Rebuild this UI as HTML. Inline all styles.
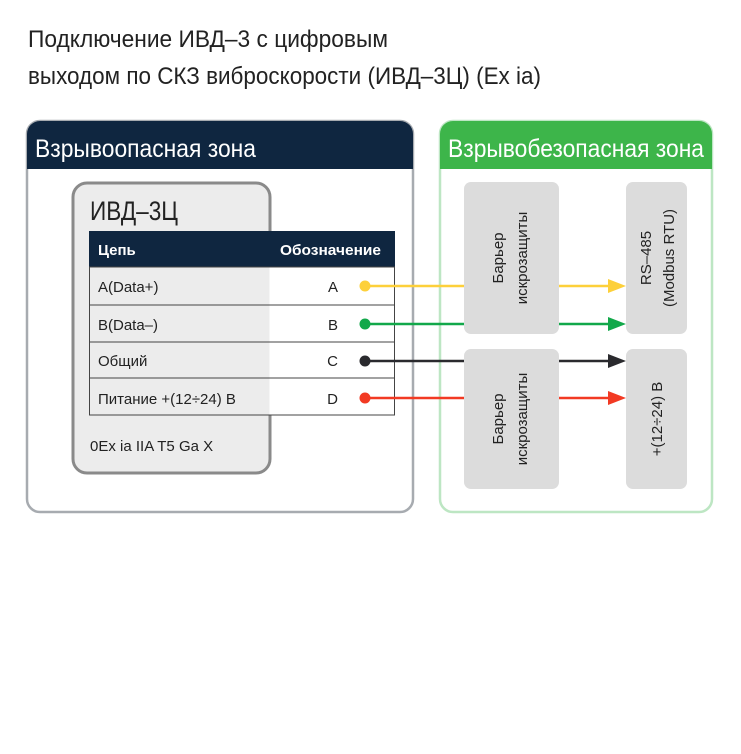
<!DOCTYPE html>
<html><head><meta charset="utf-8"><style>
html,body{margin:0;padding:0;background:#fff;}
svg{display:block;font-family:"Liberation Sans Narrow","Liberation Sans",sans-serif;}
</style></head><body>
<svg width="741" height="754" viewBox="0 0 741 754" xmlns="http://www.w3.org/2000/svg">
<defs>
<marker id="ay" markerWidth="10" markerHeight="10" refX="9" refY="5" orient="auto" markerUnits="userSpaceOnUse"><path d="M0,0 L10,5 L0,10 z" fill="#fdd03a"/></marker>
</defs>
<!-- title -->
<text x="28" y="47" font-size="24" fill="#222" textLength="360" lengthAdjust="spacingAndGlyphs">Подключение ИВД–3 с цифровым</text>
<text x="28" y="84" font-size="24" fill="#222" textLength="513" lengthAdjust="spacingAndGlyphs">выходом по СКЗ виброскорости (ИВД–3Ц) (Ex ia)</text>

<!-- left zone -->
<rect x="27" y="121" width="386" height="391" rx="13" fill="#fff" stroke="#a7abb0" stroke-width="2.5"/>
<path d="M27,169 V134 a13,13 0 0 1 13,-13 H400 a13,13 0 0 1 13,13 V169 z" fill="#0f2640"/>
<text x="35" y="157" font-size="25" fill="#fff" textLength="221" lengthAdjust="spacingAndGlyphs">Взрывоопасная зона</text>

<!-- right zone -->
<rect x="440" y="121" width="272" height="391" rx="13" fill="#fff" stroke="#bde6c3" stroke-width="2.5"/>
<path d="M440,169 V134 a13,13 0 0 1 13,-13 H699 a13,13 0 0 1 13,13 V169 z" fill="#3db54a"/>
<text x="448" y="157" font-size="25" fill="#fff" textLength="256" lengthAdjust="spacingAndGlyphs">Взрывобезопасная зона</text>

<!-- device -->
<rect x="73" y="183" width="197" height="290" rx="14" fill="#ececec" stroke="#8a8a8a" stroke-width="3"/>
<text x="90" y="220" font-size="27" fill="#222" textLength="88" lengthAdjust="spacingAndGlyphs">ИВД–3Ц</text>

<!-- table -->
<rect x="89" y="231" width="306" height="36" fill="#0f2640"/>
<text x="98" y="255" font-size="15" font-weight="bold" fill="#fff">Цепь</text>
<text x="381" y="255" font-size="15" font-weight="bold" fill="#fff" text-anchor="end" textLength="101" lengthAdjust="spacingAndGlyphs">Обозначение</text>
<rect x="89.5" y="267" width="180" height="148" fill="#ececec"/>
<rect x="269.5" y="267" width="125" height="148" fill="#fff"/>
<g stroke="#444" stroke-width="1" fill="none">
<rect x="89.5" y="267" width="305" height="148"/>
<line x1="89" y1="305" x2="395" y2="305"/>
<line x1="89" y1="342" x2="395" y2="342"/>
<line x1="89" y1="378" x2="395" y2="378"/>
</g>
<g font-size="15" fill="#222">
<text x="98" y="292">A(Data+)</text>
<text x="98" y="330">B(Data–)</text>
<text x="98" y="366">Общий</text>
<text x="98" y="404">Питание +(12÷24) В</text>
<text x="338" y="292" text-anchor="end">A</text>
<text x="338" y="330" text-anchor="end">B</text>
<text x="338" y="366" text-anchor="end">C</text>
<text x="338" y="404" text-anchor="end">D</text>
</g>
<text x="90" y="451" font-size="15" fill="#222">0Ex ia IIA T5 Ga X</text>

<!-- boxes -->
<rect x="464" y="182" width="95" height="152" rx="7" fill="#dcdcdc"/>
<rect x="464" y="349" width="95" height="140" rx="7" fill="#dcdcdc"/>
<rect x="626" y="182" width="61" height="152" rx="7" fill="#dcdcdc"/>
<rect x="626" y="349" width="61" height="140" rx="7" fill="#dcdcdc"/>
<g font-size="15" fill="#222" text-anchor="middle">
<text transform="translate(503,258) rotate(-90)">Барьер</text>
<text transform="translate(527,258) rotate(-90)">искрозащиты</text>
<text transform="translate(503,419) rotate(-90)">Барьер</text>
<text transform="translate(527,419) rotate(-90)">искрозащиты</text>
<text transform="translate(651,258) rotate(-90)">RS–485</text>
<text transform="translate(674,258) rotate(-90)">(Modbus RTU)</text>
<text transform="translate(662,419) rotate(-90)">+(12÷24) В</text>
</g>

<!-- lines -->
<g stroke-width="2.5">
<line x1="365" y1="286" x2="464" y2="286" stroke="#fdd03a"/>
<line x1="559" y1="286" x2="612" y2="286" stroke="#fdd03a"/>
<line x1="365" y1="324" x2="464" y2="324" stroke="#12a84a"/>
<line x1="559" y1="324" x2="612" y2="324" stroke="#12a84a"/>
<line x1="365" y1="361" x2="464" y2="361" stroke="#2a2a2e"/>
<line x1="559" y1="361" x2="612" y2="361" stroke="#2a2a2e"/>
<line x1="365" y1="398" x2="464" y2="398" stroke="#f23a23"/>
<line x1="559" y1="398" x2="612" y2="398" stroke="#f23a23"/>
</g>
<circle cx="365" cy="286" r="5.5" fill="#fdd03a"/>
<circle cx="365" cy="324" r="5.5" fill="#12a84a"/>
<circle cx="365" cy="361" r="5.5" fill="#2a2a2e"/>
<circle cx="365" cy="398" r="5.5" fill="#f23a23"/>
<path d="M608,279 L626,286 L608,293 z" fill="#fdd03a"/>
<path d="M608,317 L626,324 L608,331 z" fill="#12a84a"/>
<path d="M608,354 L626,361 L608,368 z" fill="#2a2a2e"/>
<path d="M608,391 L626,398 L608,405 z" fill="#f23a23"/>
</svg>
</body></html>
